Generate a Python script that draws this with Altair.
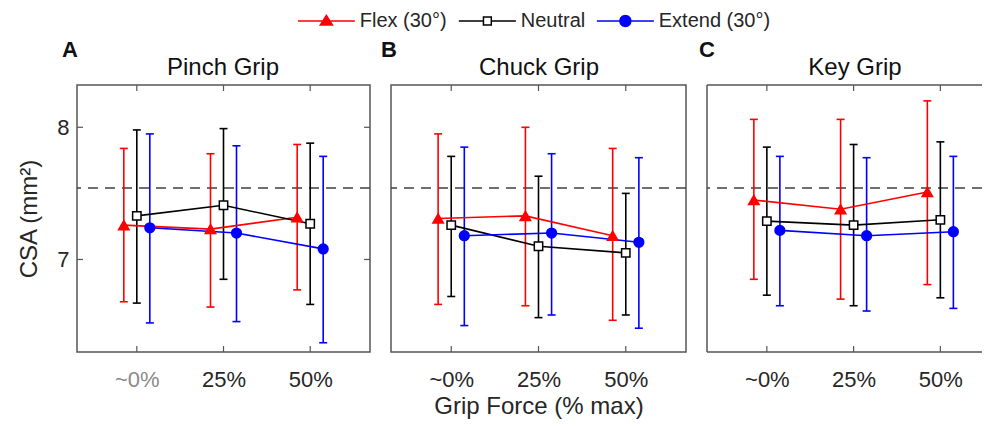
import json
import altair as alt
import pandas as pd

# ---------------- data ----------------
categories = ["~0%", "25%", "50%"]
series = ["Flex (30°)", "Neutral", "Extend (30°)"]
panels = ["Pinch Grip", "Chuck Grip", "Key Grip"]
letters = ["A", "B", "C"]
reference_csa = 7.54

pinch_flex_mean = [7.26, 7.23, 7.32]
pinch_flex_low = [6.68, 6.64, 6.77]
pinch_flex_high = [7.84, 7.80, 7.87]
pinch_neutral_mean = [7.33, 7.41, 7.27]
pinch_neutral_low = [6.67, 6.85, 6.66]
pinch_neutral_high = [7.98, 7.99, 7.88]
pinch_extend_mean = [7.24, 7.20, 7.08]
pinch_extend_low = [6.52, 6.53, 6.37]
pinch_extend_high = [7.95, 7.86, 7.78]

chuck_flex_mean = [7.31, 7.33, 7.18]
chuck_flex_low = [6.66, 6.65, 6.54]
chuck_flex_high = [7.95, 8.00, 7.84]
chuck_neutral_mean = [7.26, 7.10, 7.05]
chuck_neutral_low = [6.72, 6.56, 6.58]
chuck_neutral_high = [7.78, 7.63, 7.50]
chuck_extend_mean = [7.18, 7.20, 7.13]
chuck_extend_low = [6.50, 6.58, 6.48]
chuck_extend_high = [7.85, 7.80, 7.77]

key_flex_mean = [7.45, 7.38, 7.51]
key_flex_low = [6.85, 6.70, 6.81]
key_flex_high = [8.06, 8.06, 8.20]
key_neutral_mean = [7.29, 7.26, 7.30]
key_neutral_low = [6.73, 6.65, 6.71]
key_neutral_high = [7.85, 7.87, 7.89]
key_extend_mean = [7.22, 7.18, 7.21]
key_extend_low = [6.65, 6.61, 6.63]
key_extend_high = [7.78, 7.77, 7.78]

panel_data = {
    "Pinch Grip": [
        (pinch_flex_mean, pinch_flex_low, pinch_flex_high),
        (pinch_neutral_mean, pinch_neutral_low, pinch_neutral_high),
        (pinch_extend_mean, pinch_extend_low, pinch_extend_high),
    ],
    "Chuck Grip": [
        (chuck_flex_mean, chuck_flex_low, chuck_flex_high),
        (chuck_neutral_mean, chuck_neutral_low, chuck_neutral_high),
        (chuck_extend_mean, chuck_extend_low, chuck_extend_high),
    ],
    "Key Grip": [
        (key_flex_mean, key_flex_low, key_flex_high),
        (key_neutral_mean, key_neutral_low, key_neutral_high),
        (key_extend_mean, key_extend_low, key_extend_high),
    ],
}
y_tick_values = [7, 8]

# ---------------- styling ----------------
colors = ["#ff0000", "#000000", "#0000ff"]
fills = ["#ff0000", "#ffffff", "#0000ff"]
shapes = ["triangle-up", "square", "circle"]
shape_sizes = [110, 70, 95]
dodge = [-0.15, 0.0, 0.15]
FONT = "Liberation Sans"
TEXT = "#262626"
FRAME = "#555555"
HEIGHT = 267
WIDTHS = [293, 295, 275]
X_DOMAINS = [[0.31, 3.69], [0.31, 3.69], [0.31, 3.48]]

# legend symbols: a line with the marker in the middle (unit = 1/4 of the line half-length)
legend_paths = [
    "M-4,0L4,0M0,-0.8L0.85,0.55L-0.85,0.55Z",
    "M-4,0L-0.55,0M0.55,0L4,0M-0.55,-0.55L0.55,-0.55L0.55,0.55L-0.55,0.55Z",
    "M-4,0L4,0M0.78,0L0.675,0.39L0.39,0.675L0,0.78L-0.39,0.675L-0.675,0.39"
    "L-0.78,0L-0.675,-0.39L-0.39,-0.675L0,-0.78L0.39,-0.675L0.675,-0.39Z",
]
LINE_LEN = 57.0
LEGEND_SIZE = (LINE_LEN / 4) ** 2
SYM_W = LINE_LEN / 4            # width the legend layout reserves for a symbol
OVERSHOOT = LINE_LEN / 2 - SYM_W / 2

label_expr = "%s[datum.value - 1]" % json.dumps(categories)


def panel_frame(name):
    rows = []
    for s_i, (mean, low, high) in enumerate(panel_data[name]):
        for c_i, cat in enumerate(categories):
            rows.append({
                "series": series[s_i],
                "cat": cat,
                "xpos": c_i + 1 + dodge[s_i],
                "mean": mean[c_i],
                "low": low[c_i],
                "high": high[c_i],
            })
    return pd.DataFrame(rows)


def make_panel(idx):
    name = panels[idx]
    width = WIDTHS[idx]
    df = panel_frame(name)
    base = alt.Chart(df)

    if idx == 0:
        label_color = alt.ExprRef(expr="datum.value == 1 ? '#8a8a8a' : '%s'" % TEXT)
    else:
        label_color = TEXT

    x_axis = alt.Axis(
        values=[1, 2, 3], labelExpr=label_expr, ticks=False, domain=False,
        grid=False, labelFontSize=22, labelPadding=17, labelColor=label_color,
        labelFont=FONT,
        title="Grip Force (% max)" if idx == 1 else None,
        titleFontSize=24, titleFontWeight="normal", titleColor=TEXT,
        titlePadding=4, titleFont=FONT,
    )
    x_scale = alt.Scale(domain=X_DOMAINS[idx], nice=False, zero=False)
    x_enc = alt.X("xpos:Q", scale=x_scale, axis=x_axis)

    y_scale = alt.Scale(domain=[6.3, 8.32], nice=False, zero=False)
    if idx == 0:
        y_axis = alt.Axis(
            values=y_tick_values, ticks=False, domain=False, grid=False,
            labelFontSize=22, labelPadding=8, labelColor=TEXT, labelFont=FONT,
            title="CSA (mm²)", titleFontSize=24, titleFontWeight="normal",
            titleColor=TEXT, titlePadding=15, titleFont=FONT,
        )
    else:
        y_axis = None

    def yq(field):
        return alt.Y(field, type="quantitative", scale=y_scale, axis=y_axis)

    ref = alt.Chart(pd.DataFrame({"ref": [reference_csa]})).mark_rule(
        strokeDash=[10, 7], color="#404040", strokeWidth=1.5
    ).encode(y=yq("ref"))
    layers = [ref]

    # inward frame ticks (MATLAB style)
    xt = alt.Chart(pd.DataFrame({"t": [1, 2, 3]}))
    tick_style = dict(color=FRAME, size=6, thickness=1.2, opacity=1)
    layers.append(xt.mark_tick(orient="vertical", **tick_style).encode(
        x=alt.X("t:Q", scale=x_scale, axis=x_axis), y=alt.value(3)))
    layers.append(xt.mark_tick(orient="vertical", **tick_style).encode(
        x=alt.X("t:Q", scale=x_scale, axis=x_axis), y=alt.value(HEIGHT - 3)))
    if idx == 0:
        yt = alt.Chart(pd.DataFrame({"v": y_tick_values}))
        layers.append(yt.mark_tick(orient="horizontal", **tick_style).encode(
            y=yq("v"), x=alt.value(3)))
        layers.append(yt.mark_tick(orient="horizontal", **tick_style).encode(
            y=yq("v"), x=alt.value(width - 3)))

    bar_layers, line_layers, point_layers = [], [], []
    for s_i, s in enumerate(series):
        sub = base.transform_filter(alt.datum.series == s)
        c = colors[s_i]
        bar_layers.append(sub.mark_rule(color=c, strokeWidth=1.6).encode(
            x=x_enc, y=yq("low"), y2="high:Q"))
        bar_layers.append(sub.mark_tick(orient="horizontal", size=8, thickness=1.6,
                                        color=c, opacity=1).encode(x=x_enc, y=yq("low")))
        bar_layers.append(sub.mark_tick(orient="horizontal", size=8, thickness=1.6,
                                        color=c, opacity=1).encode(x=x_enc, y=yq("high")))
        line_layers.append(sub.mark_line(color=c, strokeWidth=1.6).encode(
            x=x_enc, y=yq("mean")))
        point_layers.append(sub.mark_point(
            shape=shapes[s_i], filled=True, fill=fills[s_i], stroke=c,
            strokeWidth=1.5, size=shape_sizes[s_i], opacity=1,
        ).encode(x=x_enc, y=yq("mean")))
    layers += bar_layers + line_layers + point_layers

    # panel letter and panel title
    letter_x = [-15, -10, -8][idx]
    letter = alt.Chart(pd.DataFrame({"t": [letters[idx]]})).mark_text(
        font=FONT, fontSize=22, fontWeight="bold", color="#111111",
        align="left", baseline="middle",
    ).encode(text="t:N", x=alt.value(letter_x), y=alt.value(-35))
    title = alt.Chart(pd.DataFrame({"t": [name]})).mark_text(
        font=FONT, fontSize=24, color="#111111", align="center", baseline="middle",
    ).encode(text="t:N", x=alt.value([146, 148, 148][idx]), y=alt.value(-17))
    layers += [letter, title]

    view = None
    if idx == 2:
        # right-most panel runs off the page: frame drawn on three sides only
        frame_style = dict(color=FRAME, strokeWidth=1.5)
        one = pd.DataFrame({"k": [0]})
        layers.append(alt.Chart(one).mark_rule(**frame_style).encode(
            x=alt.value(0), x2=alt.value(width), y=alt.value(0)))
        layers.append(alt.Chart(one).mark_rule(**frame_style).encode(
            x=alt.value(0), x2=alt.value(width), y=alt.value(HEIGHT)))
        layers.append(alt.Chart(one).mark_rule(**frame_style).encode(
            x=alt.value(0), y=alt.value(0), y2=alt.value(HEIGHT)))
        view = alt.ViewBackground(strokeOpacity=0)

    if idx == 0:
        # legend carrier: real rows, drawn outside the clipped plot area
        legend_layer = base.mark_point(
            filled=True, size=LEGEND_SIZE, strokeWidth=1.5, opacity=1, clip=True
        ).encode(
            x=x_enc,
            y=alt.value(-2000),
            shape=alt.Shape("series:N", scale=alt.Scale(domain=series, range=legend_paths),
                            legend=alt.Legend(
                                title=None, orient="none", direction="horizontal",
                                legendX=218 + OVERSHOOT, legendY=-74, padding=0,
                                labelFontSize=20, labelFont=FONT, labelColor=TEXT,
                                symbolSize=LEGEND_SIZE, symbolStrokeWidth=1.5,
                                columnPadding=8,
                                labelOffset=OVERSHOOT + 2,
                            )),
            fill=alt.Fill("series:N", scale=alt.Scale(domain=series, range=fills)),
            stroke=alt.Stroke("series:N", scale=alt.Scale(domain=series, range=colors)),
        )
        layers.append(legend_layer)

    props = dict(width=width, height=HEIGHT)
    if view is not None:
        props["view"] = view
    return alt.layer(*layers).properties(**props)


chart = alt.hconcat(
    make_panel(0), make_panel(1), make_panel(2),
    spacing=21, bounds="flush",
).configure(
    background="white", padding={"left": 9, "top": 3, "right": 0, "bottom": 0}
).configure_view(stroke=FRAME, strokeWidth=1.5)

chart.save("out.html", embed_options={"renderer": "svg", "actions": False})
